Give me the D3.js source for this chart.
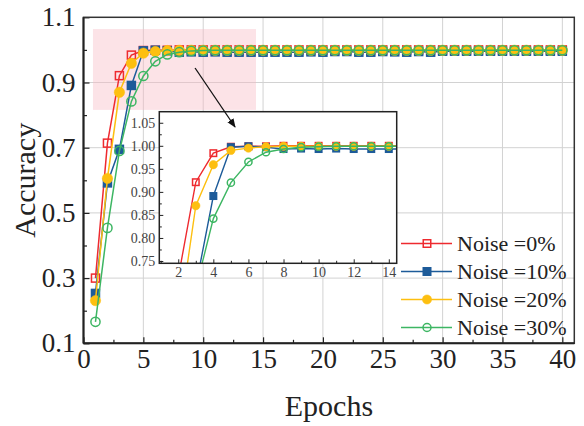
<!DOCTYPE html>
<html>
<head>
<meta charset="utf-8">
<script src="https://cdn.jsdelivr.net/npm/d3@7"></script>
<style>
  body { margin: 0; background: #fff; }
  svg, svg text { font-family: "Liberation Serif", "Times New Roman", serif !important; }
</style>
</head>
<body>
<div id="chart"></div>
<script>
// epochs 1..40
const epochs = d3.range(1, 41);

const noise0 = [0.300, 0.714, 0.921, 0.984, 0.998, 0.999, 0.999, 1.000, 1.000, 1.000,
  1.000, 1.000, 1.000, 1.000, 1.000, 1.000, 1.000, 1.000, 1.000, 1.000,
  1.000, 1.000, 1.000, 1.000, 1.000, 1.000, 1.000, 1.000, 1.000, 1.000,
  1.000, 1.000, 1.000, 1.000, 1.000, 1.000, 1.000, 1.000, 1.000, 1.000];
const noise10 = [0.253, 0.592, 0.695, 0.891, 0.997, 0.999, 0.997, 0.993, 0.994, 0.993,
  0.994, 0.993, 0.993, 0.993, 0.993, 0.993, 0.993, 0.993, 0.994, 0.993,
  0.995, 0.995, 0.993, 0.993, 0.995, 0.994, 0.993, 0.995, 0.993, 0.996,
  0.996, 0.996, 0.996, 0.996, 0.996, 0.996, 0.996, 0.996, 0.996, 0.996];
const noise20 = [0.231, 0.606, 0.870, 0.959, 0.990, 0.995, 0.998, 0.999, 0.999, 0.999,
  0.999, 0.999, 0.999, 0.999, 0.999, 0.999, 0.999, 0.999, 0.999, 0.999,
  0.999, 0.999, 0.999, 0.999, 0.999, 0.999, 0.999, 0.999, 0.999, 0.999,
  0.999, 0.999, 0.999, 0.999, 0.999, 0.999, 0.999, 0.999, 0.999, 0.999];
const noise30 = [0.166, 0.454, 0.690, 0.842, 0.920, 0.965, 0.986, 0.993, 0.997, 0.998,
  0.999, 0.999, 0.999, 0.999, 0.999, 0.999, 0.999, 0.999, 0.999, 0.999,
  0.999, 0.999, 0.999, 0.999, 0.999, 0.999, 0.999, 0.999, 0.999, 0.999,
  0.999, 0.999, 0.999, 0.999, 0.999, 0.999, 0.999, 0.999, 0.999, 0.999];

const seriesNames = ["Noise =0%", "Noise =10%", "Noise =20%", "Noise =30%"];
const seriesColors = ["#ee2a2f", "#1d5b99", "#fdbf10", "#3db663"];
const seriesShapes = ["squareOpen", "squareFilled", "circleFilled", "circleOpen"];

const xTicks = [0, 5, 10, 15, 20, 25, 30, 35, 40];
const yTicks = [0.1, 0.3, 0.5, 0.7, 0.9, 1.1];
const insetXTicks = [2, 4, 6, 8, 10, 12, 14];
const insetYTicks = [0.75, 0.80, 0.85, 0.90, 0.95, 1.00, 1.05];

// zoom region (pink box) and arrow, in main-plot data units
const zoomBox = [0.79, 14.41, 0.816, 1.064];
const arrow = [[9.32, 0.9445], [12.66, 0.7635]];

const SERIF = "'Liberation Serif', 'Times New Roman', serif";

const series = seriesNames.map((name, i) => ({
  name,
  color: seriesColors[i],
  shape: seriesShapes[i],
  values: epochs.map((e, j) => ({ x: e, y: [noise0, noise10, noise20, noise30][i][j] }))
}));

const W = 584, H = 426;
const svg = d3.select("#chart").append("svg").attr("width", W).attr("height", H);

const defs = svg.append("defs");
defs.append("marker")
  .attr("id", "arrowHead")
  .attr("viewBox", "0 0 10 10")
  .attr("refX", 9).attr("refY", 5)
  .attr("markerWidth", 7).attr("markerHeight", 7)
  .attr("orient", "auto")
  .append("path").attr("d", "M0,1 L10,5 L0,9 z").attr("fill", "#111");

// main plot
const main = { left: 83.5, right: 574.3, top: 17.3, bottom: 343.3 };
const x = d3.scaleLinear().domain([0, 41]).range([main.left, main.right]);
const y = d3.scaleLinear().domain([0.1, 1.1]).range([main.bottom, main.top]);

// gridlines
svg.append("g").selectAll("line").data(xTicks.filter(d => d > 0)).enter().append("line")
  .attr("x1", d => x(d)).attr("x2", d => x(d))
  .attr("y1", main.top).attr("y2", main.bottom)
  .attr("stroke", "#d2d2d2").attr("stroke-width", 1);
svg.append("g").selectAll("line").data(yTicks.filter(d => d > 0.1 && d < 1.1)).enter().append("line")
  .attr("x1", main.left).attr("x2", main.right)
  .attr("y1", d => y(d)).attr("y2", d => y(d))
  .attr("stroke", "#d2d2d2").attr("stroke-width", 1);

// pink zoom region
svg.append("rect")
  .attr("x", x(zoomBox[0])).attr("y", y(zoomBox[3]))
  .attr("width", x(zoomBox[1]) - x(zoomBox[0]))
  .attr("height", y(zoomBox[2]) - y(zoomBox[3]))
  .attr("fill", "#f7b9c2").attr("opacity", 0.4);

function drawMarker(g, d, s, sq, r) {
  if (s.shape.startsWith("square")) {
    g.append("rect")
      .attr("x", d.cx - sq / 2).attr("y", d.cy - sq / 2)
      .attr("width", sq).attr("height", sq)
      .attr("fill", s.shape === "squareFilled" ? s.color : "#fff")
      .attr("fill-opacity", s.shape === "squareFilled" ? 1 : 0)
      .attr("stroke", s.color).attr("stroke-width", 1.5);
  } else {
    const filled = s.shape === "circleFilled";
    g.append("circle")
      .attr("cx", d.cx).attr("cy", d.cy).attr("r", filled ? r + 0.6 : r)
      .attr("fill", filled ? s.color : "none")
      .attr("stroke", s.color).attr("stroke-width", filled ? 0.5 : 1.5);
  }
}

function drawSeries(g, xs, ys, sq, r, lw) {
  series.forEach(s => {
    g.append("path")
      .datum(s.values)
      .attr("fill", "none")
      .attr("stroke", s.color)
      .attr("stroke-width", lw)
      .attr("d", d3.line().x(d => xs(d.x)).y(d => ys(d.y)));
    const mg = g.append("g");
    s.values.forEach(v => drawMarker(mg, { cx: xs(v.x), cy: ys(v.y) }, s, sq, r));
  });
}

const mainG = svg.append("g");
drawSeries(mainG, x, y, 8, 4.6, 1.5);

// main axes with inward ticks
const xAxis = svg.append("g").attr("transform", `translate(0,${main.bottom})`)
  .call(d3.axisBottom(x).tickValues(xTicks).tickSizeInner(-6).tickSizeOuter(0).tickPadding(6));
svg.append("g").attr("transform", `translate(0,${main.bottom})`)
  .call(d3.axisBottom(x).tickValues([2.5, 7.5, 12.5, 17.5, 22.5, 27.5, 32.5, 37.5])
    .tickSizeInner(-3.5).tickSizeOuter(0).tickFormat(""));
const yAxis = svg.append("g").attr("transform", `translate(${main.left},0)`)
  .call(d3.axisLeft(y).tickValues(yTicks).tickFormat(d3.format(".1f"))
    .tickSizeInner(-6).tickSizeOuter(0).tickPadding(8));
svg.append("g").attr("transform", `translate(${main.left},0)`)
  .call(d3.axisLeft(y).tickValues([0.2, 0.4, 0.6, 0.8, 1.0]).tickSizeInner(-3.5)
    .tickSizeOuter(0).tickFormat(""));
svg.selectAll(".domain").remove();
svg.selectAll(".tick line").attr("stroke", "#222").attr("stroke-width", 1.2);
[xAxis, yAxis].forEach(a => a.attr("font-family", null).selectAll(".tick text")
  .style("font-family", SERIF).style("font-size", "27px").attr("fill", "#222"));

// frame
svg.append("rect")
  .attr("x", main.left).attr("y", main.top)
  .attr("width", main.right - main.left).attr("height", main.bottom - main.top)
  .attr("fill", "none").attr("stroke", "#333").attr("stroke-width", 1.5);
svg.append("line").attr("x1", main.left).attr("x2", main.right)
  .attr("y1", main.bottom).attr("y2", main.bottom).attr("stroke", "#222").attr("stroke-width", 2);
svg.append("line").attr("x1", main.left).attr("x2", main.left)
  .attr("y1", main.top).attr("y2", main.bottom).attr("stroke", "#222").attr("stroke-width", 2);

// axis titles
svg.append("text")
  .attr("x", (main.left + main.right) / 2).attr("y", 416)
  .attr("text-anchor", "middle").style("font-family", SERIF).style("font-size", "30px").attr("fill", "#222")
  .text("Epochs");
svg.append("text")
  .attr("transform", `translate(35,${(main.top + main.bottom) / 2}) rotate(-90)`)
  .attr("text-anchor", "middle").style("font-family", SERIF).style("font-size", "30px").attr("fill", "#222")
  .text("Accuracy");

// inset
const ins = { left: 159.3, right: 396.7, top: 111.7, bottom: 263.3 };
const xi = d3.scaleLinear().domain([0.92, 14.45]).range([ins.left, ins.right]);
const yi = d3.scaleLinear().domain([0.745, 1.074]).range([ins.bottom, ins.top]);

svg.append("rect")
  .attr("x", ins.left).attr("y", ins.top)
  .attr("width", ins.right - ins.left).attr("height", ins.bottom - ins.top)
  .attr("fill", "#fff");

defs.append("clipPath").attr("id", "insetClip").append("rect")
  .attr("x", ins.left).attr("y", ins.top)
  .attr("width", ins.right - ins.left).attr("height", ins.bottom - ins.top);

const insetG = svg.append("g").attr("clip-path", "url(#insetClip)");
drawSeries(insetG, xi, yi, 6.5, 3.6, 1.4);

const ixAxis = svg.append("g").attr("transform", `translate(0,${ins.bottom})`)
  .call(d3.axisBottom(xi).tickValues(insetXTicks).tickSizeInner(-4).tickSizeOuter(0).tickPadding(4));
svg.append("g").attr("transform", `translate(0,${ins.bottom})`)
  .call(d3.axisBottom(xi).tickValues([1, 3, 5, 7, 9, 11, 13]).tickSizeInner(-2.5)
    .tickSizeOuter(0).tickFormat(""));
const iyAxis = svg.append("g").attr("transform", `translate(${ins.left},0)`)
  .call(d3.axisLeft(yi).tickValues(insetYTicks).tickFormat(d3.format(".2f"))
    .tickSizeInner(-4).tickSizeOuter(0).tickPadding(4));
svg.append("g").attr("transform", `translate(${ins.left},0)`)
  .call(d3.axisLeft(yi).tickValues([0.775, 0.825, 0.875, 0.925, 0.975, 1.025])
    .tickSizeInner(-2.5).tickSizeOuter(0).tickFormat(""));
svg.selectAll(".domain").remove();
[ixAxis, iyAxis].forEach(a => a.attr("font-family", null).selectAll(".tick text")
  .style("font-family", SERIF).style("font-size", "14px").attr("fill", "#444"));
svg.selectAll(".tick line").attr("stroke", "#222");

svg.append("rect")
  .attr("x", ins.left).attr("y", ins.top)
  .attr("width", ins.right - ins.left).attr("height", ins.bottom - ins.top)
  .attr("fill", "none").attr("stroke", "#222").attr("stroke-width", 1.5);

// arrow
svg.append("line")
  .attr("x1", x(arrow[0][0])).attr("y1", y(arrow[0][1]))
  .attr("x2", x(arrow[1][0])).attr("y2", y(arrow[1][1]))
  .attr("stroke", "#111").attr("stroke-width", 1.3)
  .attr("marker-end", "url(#arrowHead)");

// legend
const legend = svg.append("g");
series.forEach((s, i) => {
  const cy = 243.5 + i * 28;
  legend.append("line")
    .attr("x1", 401).attr("x2", 452).attr("y1", cy).attr("y2", cy)
    .attr("stroke", s.color).attr("stroke-width", 1.5);
  drawMarker(legend, { cx: 427, cy }, s, 7.5, 4);
  legend.append("text")
    .attr("x", 457).attr("y", cy + 7.5)
    .style("font-family", SERIF).style("font-size", "22px").attr("fill", "#222")
    .text(s.name);
});
</script>
</body>
</html>
